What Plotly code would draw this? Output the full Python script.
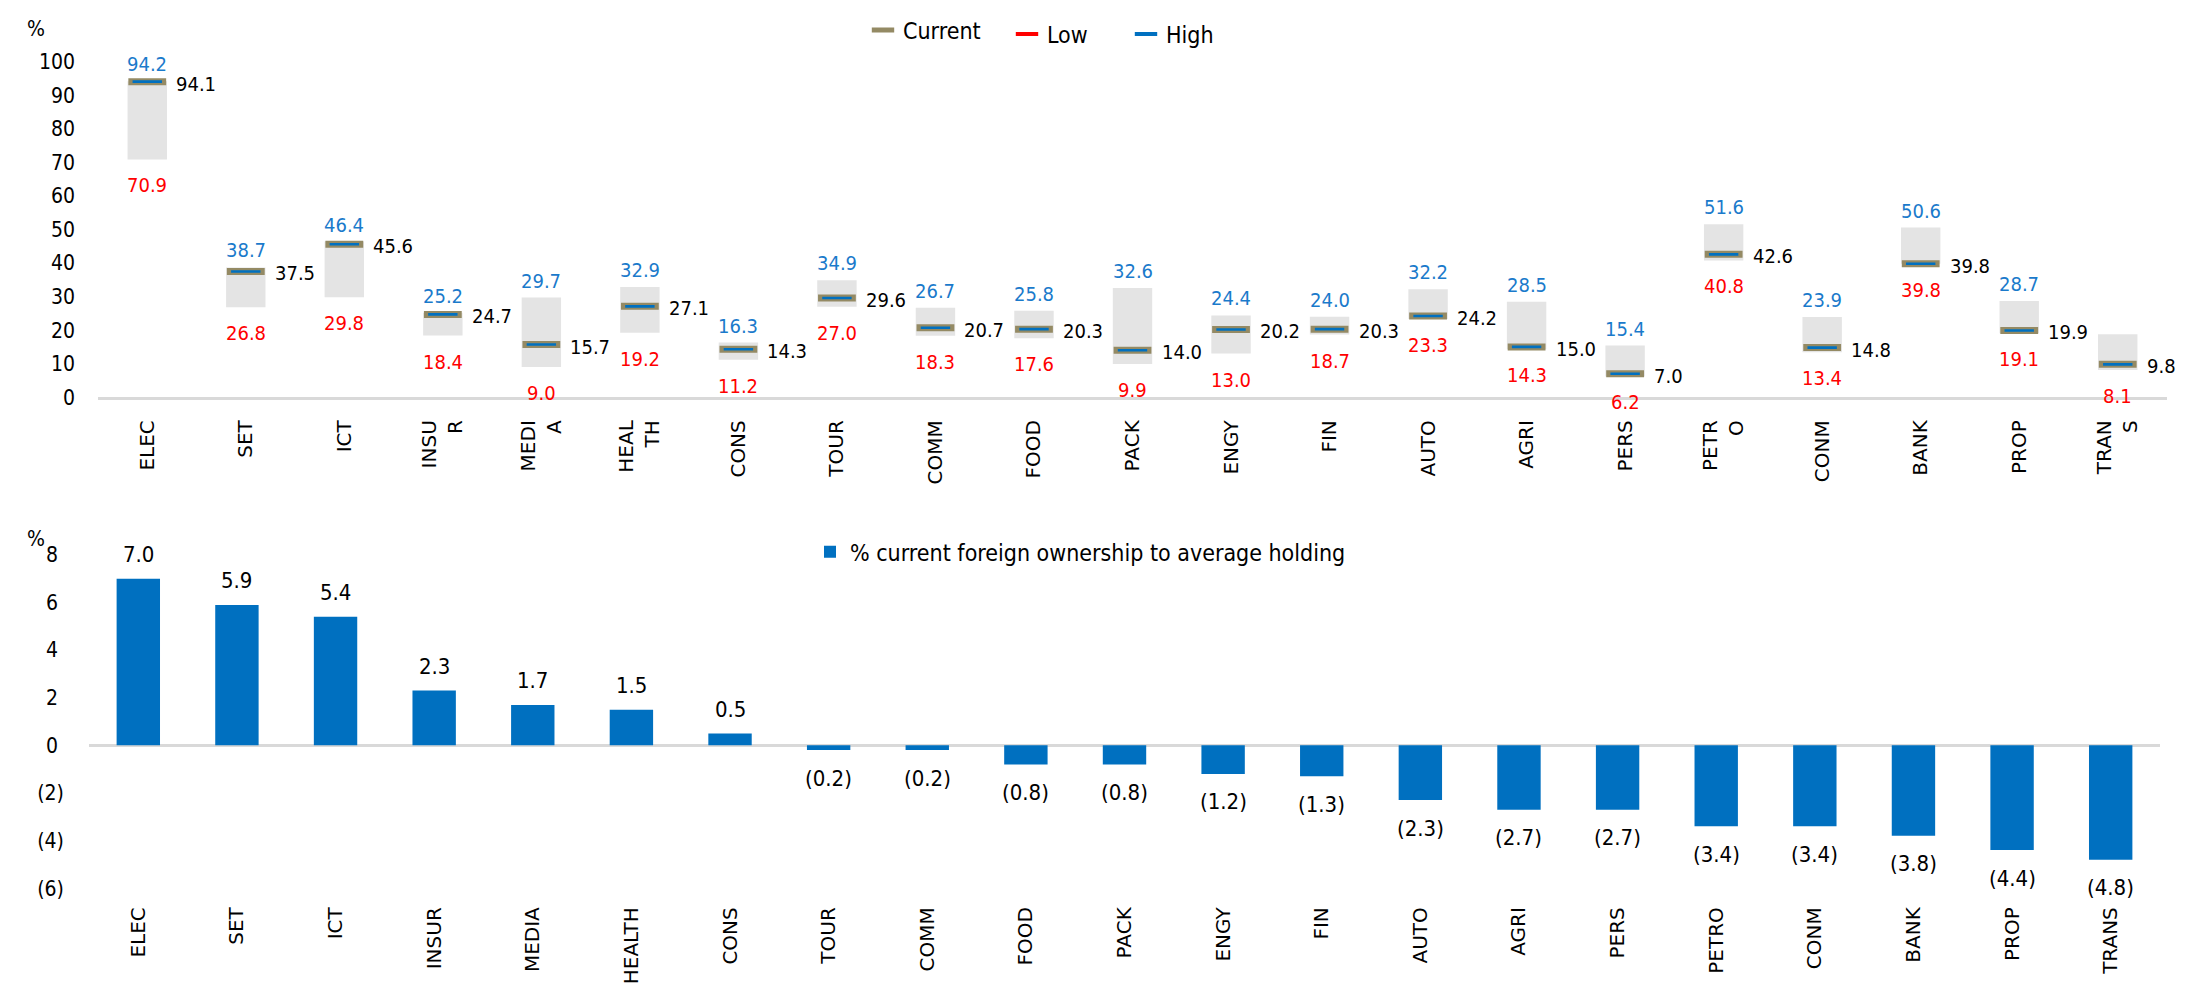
import plotly.graph_objects as go

# ---------------- data ----------------
sectors = ["ELEC", "SET", "ICT", "INSUR", "MEDIA", "HEALTH", "CONS", "TOUR", "COMM", "FOOD", "PACK",
           "ENGY", "FIN", "AUTO", "AGRI", "PERS", "PETRO", "CONM", "BANK", "PROP", "TRANS"]
top_tick_text = ["ELEC", "SET", "ICT", "INSU<br>R", "MEDI<br>A", "HEAL<br>TH", "CONS", "TOUR", "COMM", "FOOD",
                 "PACK", "ENGY", "FIN", "AUTO", "AGRI", "PERS", "PETR<br>O", "CONM", "BANK", "PROP", "TRAN<br>S"]
low = [70.9, 26.8, 29.8, 18.4, 9.0, 19.2, 11.2, 27.0, 18.3, 17.6, 9.9, 13.0, 18.7, 23.3, 14.3, 6.2, 40.8, 13.4, 39.8, 19.1, 8.1]
high = [94.2, 38.7, 46.4, 25.2, 29.7, 32.9, 16.3, 34.9, 26.7, 25.8, 32.6, 24.4, 24.0, 32.2, 28.5, 15.4, 51.6, 23.9, 50.6, 28.7, 18.8]
high_shown = [True] * 20 + [False]
current = [94.1, 37.5, 45.6, 24.7, 15.7, 27.1, 14.3, 29.6, 20.7, 20.3, 14.0, 20.2, 20.3, 24.2, 15.0, 7.0, 42.6, 14.8, 39.8, 19.9, 9.8]

diff_vs_avg = [7.0, 5.9, 5.4, 2.3, 1.7, 1.5, 0.5, -0.2, -0.2, -0.8, -0.8, -1.2, -1.3, -2.3, -2.7, -2.7, -3.4, -3.4, -3.8, -4.4, -4.8]

top_yticks = [0, 10, 20, 30, 40, 50, 60, 70, 80, 90, 100]
bot_yticks = [-6, -4, -2, 0, 2, 4, 6, 8]
bot_yticktext = ["(6)", "(4)", "(2)", "0\u00a0", "2\u00a0", "4\u00a0", "6\u00a0", "8\u00a0"]

# ---------------- styles ----------------
W, H = 2191, 988
NUM_FONT = "Tahoma, 'DejaVu Sans Condensed', 'Liberation Sans', sans-serif"
CAT_FONT = "Verdana, 'DejaVu Sans', sans-serif"
GRAY_BOX = "#E4E4E4"
KHAKI = "#948A64"
BLUE = "#0070C0"
LABEL_BLUE = "#1A7ACB"
RED = "#FF0000"
AXIS_GRAY = "#D9D9D9"


def fmt_paren(v):
    return f"({abs(v):.1f})" if v < 0 else f"{v:.1f}"


def px_x(p):
    return p / W


def px_y(p):
    return 1 - p / H


fig = go.Figure()

# ---- top chart: range boxes
fig.add_trace(go.Bar(
    x=sectors, y=[h - l for h, l in zip(high, low)], base=low,
    marker=dict(color=GRAY_BOX, line=dict(width=0)), width=0.4,
    showlegend=False, hoverinfo="skip", xaxis="x", yaxis="y"))

# current markers (khaki dash with blue core)
fig.add_trace(go.Scatter(
    x=sectors, y=current, mode="markers",
    marker=dict(symbol="line-ew", size=27, line=dict(width=7, color=KHAKI)),
    showlegend=False, xaxis="x", yaxis="y"))
fig.add_trace(go.Scatter(
    x=sectors, y=current, mode="markers",
    marker=dict(symbol="line-ew", size=21, line=dict(width=2.6, color=BLUE)),
    showlegend=False, xaxis="x", yaxis="y"))

# legend-only entries for the top chart (each in its own legend box)
for name, col, w, lg in [("Current", KHAKI, 5, "legend"), ("Low", RED, 4, "legend3"), ("High", BLUE, 4, "legend4")]:
    fig.add_trace(go.Scatter(
        x=[None], y=[None], mode="markers", name=name,
        marker=dict(symbol="line-ew", size=16, line=dict(width=w, color=col)),
        xaxis="x", yaxis="y", legend=lg))

# ---- bottom chart
fig.add_trace(go.Bar(
    x=sectors, y=diff_vs_avg, name="% current foreign ownership to average holding",
    marker=dict(color=BLUE, line=dict(width=0)), width=0.44,
    xaxis="x2", yaxis="y2", legend="legend2"))

annotations = []
for s, l, h, hs, c in zip(sectors, low, high, high_shown, current):
    annotations.append(dict(x=s, y=l, xref="x", yref="y", text=f"{l:.1f}", showarrow=False,
                            font=dict(family=NUM_FONT, size=20, color=RED), yshift=-26))
    if hs:
        annotations.append(dict(x=s, y=h, xref="x", yref="y", text=f"{h:.1f}", showarrow=False,
                                font=dict(family=NUM_FONT, size=20, color=LABEL_BLUE), yshift=17))
    annotations.append(dict(x=s, y=c, xref="x", yref="y", text=f"{c:.1f}", showarrow=False,
                            xanchor="left", xshift=27, yshift=-2,
                            font=dict(family=NUM_FONT, size=20, color="#000000")))
for s, v in zip(sectors, diff_vs_avg):
    annotations.append(dict(x=s, y=v, xref="x2", yref="y2", text=fmt_paren(v), showarrow=False,
                            yshift=24 if v >= 0 else -28,
                            font=dict(family=NUM_FONT, size=22, color="#000000")))

annotations.append(dict(x=px_x(28), y=px_y(19), xref="paper", yref="paper", text="%", showarrow=False,
                        xanchor="center", yanchor="middle",
                        font=dict(family=NUM_FONT, size=21, color="#000000")))
annotations.append(dict(x=px_x(28), y=px_y(530), xref="paper", yref="paper", text="%", showarrow=False,
                        xanchor="center", yanchor="middle",
                        font=dict(family=NUM_FONT, size=21, color="#000000")))

LEG_FONT = dict(family=NUM_FONT, size=23, color="#000000")


def leg(xpx, ypx):
    return dict(orientation="h", x=px_x(xpx), y=px_y(ypx), xanchor="left", yanchor="middle",
                font=LEG_FONT, bgcolor="rgba(0,0,0,0)", itemwidth=30)


fig.update_layout(
    width=W, height=H,
    margin=dict(l=0, r=0, t=0, b=0),
    paper_bgcolor="white", plot_bgcolor="white",
    barmode="overlay",
    font=dict(family=NUM_FONT, size=20, color="#000000"),
    annotations=annotations,
    xaxis=dict(domain=[px_x(90), px_x(2159)], anchor="y", type="category",
               categoryorder="array", categoryarray=sectors, range=[-0.5, len(sectors) - 0.5],
               tickmode="array", tickvals=sectors, ticktext=top_tick_text,
               tickangle=-90, tickfont=dict(family=CAT_FONT, size=20, color="#000000"),
               showline=True, linecolor=AXIS_GRAY, linewidth=3, ticks="",
               showgrid=False, zeroline=False, ticklabelstandoff=12, automargin=False),
    yaxis=dict(domain=[px_y(388), px_y(52)], anchor="x", range=[0, 100],
               tickmode="array", tickvals=top_yticks,
               tickfont=dict(family=NUM_FONT, size=21, color="#000000"),
               showgrid=False, zeroline=False, showline=False, ticks="",
               ticklabelstandoff=22, automargin=False),
    xaxis2=dict(domain=[px_x(81), px_x(2152)], anchor="y2", type="category",
                categoryorder="array", categoryarray=sectors, range=[-0.5, len(sectors) - 0.5],
                tickangle=-90, tickfont=dict(family=CAT_FONT, size=20, color="#000000"),
                showline=False, ticks="", showgrid=False, zeroline=False,
                ticklabelstandoff=14, automargin=False),
    yaxis2=dict(domain=[px_y(880), px_y(546)], anchor="x2", range=[-6, 8],
                tickmode="array", tickvals=bot_yticks, ticktext=bot_yticktext,
                tickfont=dict(family=NUM_FONT, size=21, color="#000000"),
                showgrid=False, zeroline=True, zerolinecolor=AXIS_GRAY, zerolinewidth=3,
                showline=False, ticks="", ticklabelstandoff=24, automargin=False),
    legend=leg(855, 20),
    legend3=leg(999, 24),
    legend4=leg(1118, 24),
    legend2=leg(802, 543),
)

fig.write_html("out.html")
